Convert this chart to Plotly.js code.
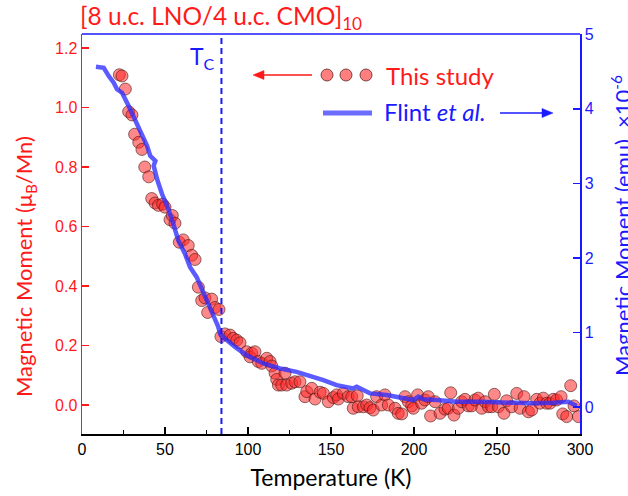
<!DOCTYPE html>
<html>
<head>
<meta charset="utf-8">
<script src="https://cdn.plot.ly/plotly-3.0.1.min.js"></script>
<style>html,body{margin:0;padding:0;background:#fff;}#chart{width:628px;height:496px;}</style>
</head>
<body>
<div id="chart"></div>
<script>
// ---- Data: this study (left axis, muB/Mn) ----
var studyT = [22.5,24.1,26.1,28.1,30.1,31.7,34.2,36.1,37.8,40.2,42.0,44.0,46.0,48.6,50.0,53.0,54.4,56.0,58.6,61.0,64.0,66.1,68.1,70.1,72.1,74.1,75.7,78.1,80.1,82.5,
  83.7,86.1,89.2,91.1,93.2,95.2,99.2,101.2,102.2,104.2,106.2,108.3,111.3,113.3,114.3,116.3,117.3,118.3,120.3,122.3,123.3,126.3,128.3,131.3,134.3,135.4,138.4,140.4,143.4,145.4,148.4,151.4,153.4,154.4,157.4,160.4,162.5,165.8,163.4,166.4,169.5,171.5,173.5,175.5,177.5,180.5,182.5,184.5,188.6,190.5,
  192.6,194.6,196.6,198.6,199.6,202.2,204.6,206.6,208.6,210.0,212.7,215.7,218.7,220.6,222.1,224.1,226.7,228.7,230.7,232.7,234.7,236.7,238.7,240.8,242.8,244.8,246.8,248.4,250.8,254.2,255.8,258.8,261.9,263.9,266.3,268.9,270.9,273.9,275.9,277.9,279.9,281.9,283.9,285.9,288.6,289.6,292.0,294.4,296.4,299.0];
var studyM = [1.110,1.106,1.062,0.986,0.975,0.910,0.883,0.859,0.800,0.767,0.694,0.679,0.671,0.675,0.665,0.623,0.637,0.611,0.547,0.555,0.536,0.503,0.489,0.396,0.351,0.360,0.311,0.356,0.328,0.321,
  0.230,0.239,0.235,0.224,0.218,0.209,0.179,0.162,0.174,0.179,0.146,0.140,0.157,0.146,0.131,0.107,0.086,0.067,0.067,0.107,0.067,0.073,0.078,0.078,0.028,0.045,0.056,0.020,0.043,0.039,0.011,0.025,0.034,0.020,0.039,0.028,0.028,0.031,-0.011,-0.006,-0.006,0.000,-0.009,-0.017,0.028,0.000,0.034,0.000,-0.011,-0.028,
  -0.030,0.028,0.011,-0.003,-0.011,0.034,0.006,0.017,0.028,-0.037,0.011,-0.028,-0.014,-0.011,0.041,-0.034,-0.011,0.011,0.019,-0.003,-0.003,0.017,0.023,-0.011,0.011,-0.006,-0.006,0.036,-0.006,-0.028,0.014,-0.006,0.039,-0.011,0.028,-0.023,-0.017,0.019,0.006,0.023,0.006,0.006,0.019,0.017,0.028,-0.030,-0.039,0.065,-0.003,-0.039];

// ---- Data: Flint et al. (right axis, emu x1e-6) ----
var flintT = [8.4,13.1,16.1,19.1,21.1,24.1,28.1,33.1,36.1,39.2,41.1,44.2,43.2,45.2,48.2,52.0,55.0,58.0,62.0,65.1,69.1,72.1,76.1,80.1,82.1,83.1,86.1,92.2,99.2,109.2,119.3,129.3,139.3,145.4,153.4,163.4,165.5,173.5,183.6,191.6,199.6,202.6,205.6,213.7,225.7,239.8,259.8,271.9,283.9,293.0,298.0];
var flintM = [4.563,4.550,4.439,4.349,4.261,4.215,4.037,3.793,3.636,3.503,3.369,3.302,3.235,3.058,2.857,2.656,2.456,2.233,2.055,1.876,1.742,1.587,1.386,1.186,1.074,0.985,0.918,0.806,0.695,0.584,0.517,0.472,0.405,0.361,0.294,0.250,0.271,0.183,0.160,0.130,0.094,0.138,0.103,0.094,0.071,0.071,0.057,0.049,0.057,0.071,0.013];

var TC = 84;
var xTicks = [0,50,100,150,200,250,300];
var leftTicks = [0.0,0.2,0.4,0.6,0.8,1.0,1.2];
var rightTicks = [0,1,2,3,4,5];

// ---- layout helpers (pixel -> paper) ----
var W = 628, H = 496, ML = 82, MR = 48, MT = 34, MB = 62;
var PW = W - ML - MR, PH = H - MT - MB;
function px(x){ return (x - ML) / PW; }
function py(y){ return (H - MB - y) / PH; }

var RED = '#ff1a1a', BLUE = '#1a1aff';
var TXT = 'Lato, "Open Sans", sans-serif';
var TICK = '"Liberation Sans", Arial, sans-serif';

var traces = [
  {x: studyT, y: studyM, type: 'scatter', mode: 'markers', name: 'This study',
   marker: {size: 12, color: 'rgba(255,40,40,0.55)', line: {color: 'rgba(70,20,20,0.6)', width: 1}}},
  {x: flintT, y: flintM, type: 'scatter', mode: 'lines', name: 'Flint et al.', yaxis: 'y2',
   line: {color: 'rgba(45,45,255,0.78)', width: 4.5}}
];

var legendCircles = [327, 346, 366].map(function(cx){
  return {type: 'circle', xref: 'paper', yref: 'paper',
    x0: px(cx - 6), x1: px(cx + 6), y0: py(75 + 6), y1: py(75 - 6),
    fillcolor: 'rgba(255,40,40,0.6)', line: {color: 'rgba(70,20,20,0.7)', width: 1}};
});

// arrow built from a line and a filled triangle head (pixel positions -> paper)
function arrow(xTail, xTip, y, color){
  var dir = xTip > xTail ? 1 : -1;
  var base = xTip - dir * 11;
  return [
    {type: 'line', xref: 'paper', yref: 'paper', x0: px(xTail), x1: px(base), y0: py(y), y1: py(y),
     line: {color: color, width: 1.3}},
    {type: 'path', xref: 'paper', yref: 'paper',
     path: 'M ' + px(xTip) + ' ' + py(y) + ' L ' + px(base) + ' ' + py(y - 4.5) + ' L ' + px(base) + ' ' + py(y + 4.5) + ' Z',
     fillcolor: color, line: {color: color, width: 0.5}}
  ];
}

var layout = {
  width: W, height: H,
  margin: {l: ML, r: MR, t: MT, b: MB, pad: 0},
  paper_bgcolor: '#fff', plot_bgcolor: '#fff',
  showlegend: false,
  title: {text: '[8 u.c. LNO/4 u.c. CMO]<sub>10</sub>', xref: 'container', yref: 'container',
    x: 80 / W, xanchor: 'left', y: 1 - 16 / H, yanchor: 'middle',
    font: {family: TXT, size: 24.5, color: RED}},
  xaxis: {range: [0, 300], tickvals: xTicks, ticktext: xTicks.map(String),
    showline: true, linecolor: '#000', linewidth: 1.5, ticks: 'inside', ticklen: 7, tickwidth: 1.5, tickcolor: '#000',
    minor: {ticks: 'inside', ticklen: 4, tickwidth: 1.5, tickcolor: '#000', dtick: 25, tick0: 0, showgrid: false},
    showgrid: false, zeroline: false,
    tickfont: {family: TICK, size: 16, color: '#000'},
    title: {text: 'Temperature (K)', font: {family: TXT, size: 23, color: '#000'}, standoff: 13}},
  yaxis: {range: [-0.0975, 1.247], tickvals: leftTicks, ticktext: leftTicks.map(function(v){return v.toFixed(1);}),
    showline: true, linecolor: RED, linewidth: 1.5, ticks: 'inside', ticklen: 7, tickwidth: 1.5, tickcolor: RED,
    showgrid: false, zeroline: false, tickfont: {family: TICK, size: 16, color: RED}},
  yaxis2: {range: [-0.362, 5.003], overlaying: 'y', side: 'right', tickvals: rightTicks, ticktext: rightTicks.map(String),
    showline: true, linecolor: BLUE, linewidth: 1.5, ticks: 'inside', ticklen: 7, tickwidth: 1.5, tickcolor: BLUE,
    showgrid: false, zeroline: false, tickfont: {family: TICK, size: 16, color: BLUE}},
  shapes: [
    {type: 'line', xref: 'paper', yref: 'paper', x0: 0, x1: 1, y0: 1, y1: 1, line: {color: BLUE, width: 1.5}},
    {type: 'line', xref: 'x', yref: 'paper', x0: TC, x1: TC, y0: 0, y1: 1, line: {color: BLUE, width: 2, dash: '6px,4px'}},
    {type: 'line', xref: 'paper', yref: 'paper', x0: px(323), x1: px(372), y0: py(113), y1: py(113),
     line: {color: 'rgba(45,45,255,0.7)', width: 5}}
  ].concat(legendCircles).concat(arrow(312, 253, 75, RED)).concat(arrow(500, 553, 113, BLUE)),
  annotations: [
    {text: 'T<sub>C</sub>', xref: 'x', yref: 'paper', x: TC, xanchor: 'right', xshift: -4, y: py(57), yanchor: 'middle',
     showarrow: false, font: {family: TXT, size: 23, color: BLUE}},
    {text: 'Magnetic Moment (μ<sub>B</sub>/Mn)', xref: 'paper', yref: 'paper', x: px(25), y: py(267),
     xanchor: 'center', yanchor: 'middle', textangle: -90, showarrow: false, font: {family: TXT, size: 22, color: RED}},
    {text: 'Magnetic Moment (emu)  ×10<sup>-6</sup>', xref: 'paper', yref: 'paper', x: px(621), y: py(226),
     xanchor: 'center', yanchor: 'middle', textangle: -90, showarrow: false, font: {family: TXT, size: 22, color: BLUE}},
    {text: 'This study', xref: 'paper', yref: 'paper', x: px(384), y: py(75), xanchor: 'left', yanchor: 'middle',
     showarrow: false, font: {family: TXT, size: 24, color: RED}},
    {text: 'Flint <i>et al.</i>', xref: 'paper', yref: 'paper', x: px(382), y: py(112), xanchor: 'left', yanchor: 'middle',
     showarrow: false, font: {family: TXT, size: 24, color: BLUE}}
  ]
};

Plotly.newPlot('chart', traces, layout, {displayModeBar: false, staticPlot: true});
</script>
</body>
</html>
